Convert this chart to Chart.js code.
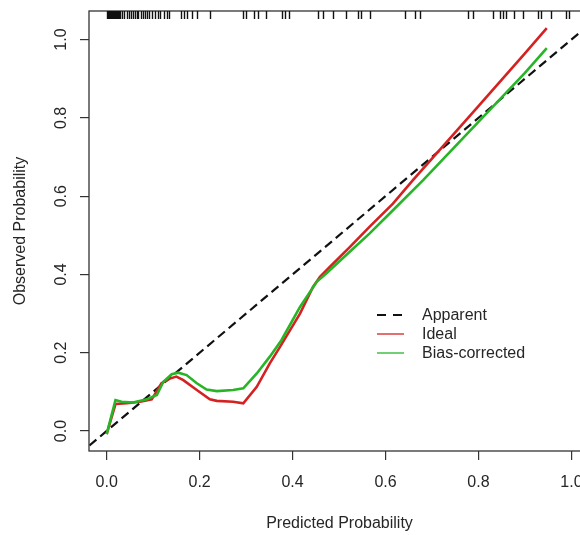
<!DOCTYPE html>
<html>
<head>
<meta charset="utf-8">
<title>Calibration curve</title>
<script src="https://cdn.jsdelivr.net/npm/chart.js@4.4.0/dist/chart.umd.min.js"></script>
<style>
  html, body { margin: 0; padding: 0; background: #fff; overflow: hidden; }
  #wrap { width: 580px; height: 535px; overflow: hidden; }
</style>
</head>
<body>
<div id="wrap"><canvas id="calib" width="620" height="535"></canvas></div>
<script>
// axis ticks
const xTicks = [0, 0.2, 0.4, 0.6, 0.8, 1.0];
const yTicks = [0, 0.2, 0.4, 0.6, 0.8, 1.0];

// reference diagonal
const apparentX = [-0.06, 1.08];
const apparentY = [-0.06, 1.08];

// red curve
const idealX = [0.000, 0.019, 0.043, 0.072, 0.097, 0.118, 0.136, 0.150, 0.165, 0.194, 0.222, 0.237,
                0.272, 0.294, 0.323, 0.351, 0.373, 0.416, 0.444, 0.459, 0.480, 0.523, 0.566, 0.616,
                0.659, 0.700, 0.800, 0.900, 0.947];
const idealY = [-0.008, 0.069, 0.071, 0.075, 0.081, 0.122, 0.134, 0.139, 0.130, 0.105, 0.081, 0.077,
                0.075, 0.071, 0.113, 0.173, 0.215, 0.300, 0.368, 0.394, 0.419, 0.470, 0.522, 0.581,
                0.641, 0.696, 0.830, 0.965, 1.029];

// green curve
const biasX = [0.000, 0.019, 0.032, 0.057, 0.086, 0.108, 0.122, 0.140, 0.154, 0.172, 0.194, 0.215,
               0.237, 0.272, 0.294, 0.323, 0.351, 0.376, 0.416, 0.452, 0.473, 0.523, 0.566, 0.616,
               0.681, 0.800, 0.900, 0.947];
const biasY = [-0.008, 0.079, 0.075, 0.073, 0.081, 0.092, 0.126, 0.145, 0.149, 0.143, 0.122, 0.106,
               0.102, 0.105, 0.109, 0.147, 0.190, 0.232, 0.317, 0.381, 0.403, 0.458, 0.505, 0.564,
               0.641, 0.790, 0.915, 0.978];

// rug of predicted probabilities along the top
const rugX = [0.000, 0.002, 0.004, 0.006, 0.008, 0.010, 0.012, 0.014, 0.016, 0.018, 0.020, 0.022,
              0.024, 0.026, 0.028, 0.034, 0.038, 0.043, 0.048, 0.052, 0.056, 0.061, 0.065, 0.068,
              0.073, 0.079, 0.082, 0.087, 0.092, 0.097, 0.104, 0.111, 0.115, 0.123, 0.129, 0.135,
              0.161, 0.167, 0.172, 0.183, 0.194, 0.222, 0.294, 0.300, 0.317, 0.325, 0.343, 0.378,
              0.383, 0.392, 0.455, 0.466, 0.486, 0.515, 0.541, 0.548, 0.566, 0.642, 0.663, 0.675,
              0.778, 0.788, 0.831, 0.847, 0.853, 0.859, 0.876, 0.896, 0.928, 0.935, 0.957, 0.988,
              0.994];

const seriesLabels = ['Apparent', 'Ideal', 'Bias-corrected'];
const xTitle = 'Predicted Probability';
const yTitle = 'Observed Probability';

const FONT = '16px "Liberation Sans", Arial, sans-serif';
const INK = '#262626';

function toPoints(xs, ys) {
    return xs.map((x, i) => ({ x: x, y: ys[i] }));
}

// box, rug, axis text and legend, all placed through the chart's scales
const decorations = {
    id: 'decorations',
    afterDraw(chart) {
        const ctx = chart.ctx;
        const area = chart.chartArea;
        const xs = chart.scales.x;
        const ys = chart.scales.y;
        ctx.save();

        ctx.strokeStyle = '#333';
        ctx.lineWidth = 1.3;
        ctx.strokeRect(area.left, area.top, area.right - area.left, area.bottom - area.top);

        ctx.strokeStyle = '#111';
        ctx.lineWidth = 1.4;
        rugX.forEach(v => {
            const px = Math.round(xs.getPixelForValue(v)) + 0.5;
            ctx.beginPath();
            ctx.moveTo(px, area.top);
            ctx.lineTo(px, area.top + 8);
            ctx.stroke();
        });

        ctx.fillStyle = INK;
        ctx.font = FONT;
        ctx.textAlign = 'center';
        ctx.textBaseline = 'alphabetic';
        xTicks.forEach(v => {
            ctx.fillText(v.toFixed(1), xs.getPixelForValue(v), 487);
        });
        yTicks.forEach(v => {
            ctx.save();
            ctx.translate(66, ys.getPixelForValue(v));
            ctx.rotate(-Math.PI / 2);
            ctx.fillText(v.toFixed(1), 0, 0);
            ctx.restore();
        });

        ctx.fillText(xTitle, (area.left + area.right) / 2, 528);
        ctx.save();
        ctx.translate(25, (area.top + area.bottom) / 2);
        ctx.rotate(-Math.PI / 2);
        ctx.fillText(yTitle, 0, 0);
        ctx.restore();

        // legend
        const rows = [315, 334, 353];
        chart.data.datasets.forEach((ds, i) => {
            ctx.beginPath();
            ctx.strokeStyle = ds.borderColor;
            ctx.lineWidth = i === 0 ? 2.2 : 1.3;
            ctx.setLineDash(i === 0 ? [9, 7] : []);
            ctx.moveTo(377, rows[i]);
            ctx.lineTo(404, rows[i]);
            ctx.stroke();
            ctx.setLineDash([]);
            ctx.textAlign = 'left';
            ctx.textBaseline = 'middle';
            ctx.fillStyle = INK;
            ctx.fillText(ds.label, 422, rows[i] + 1);
        });

        ctx.restore();
    }
};

new Chart(document.getElementById('calib'), {
    type: 'scatter',
    data: {
        datasets: [
            {
                label: seriesLabels[0],
                data: toPoints(apparentX, apparentY),
                showLine: true,
                borderColor: '#111',
                borderWidth: 2.2,
                borderDash: [9, 5],
                pointRadius: 0,
                order: 2
            },
            {
                label: seriesLabels[1],
                data: toPoints(idealX, idealY),
                showLine: true,
                borderColor: '#d42222',
                borderWidth: 2.6,
                pointRadius: 0,
                order: 1
            },
            {
                label: seriesLabels[2],
                data: toPoints(biasX, biasY),
                showLine: true,
                borderColor: '#27b527',
                borderWidth: 2.6,
                pointRadius: 0,
                order: 0
            }
        ]
    },
    options: {
        responsive: false,
        animation: false,
        layout: { padding: { top: 11, right: 30, left: 0, bottom: 0 } },
        plugins: { legend: { display: false }, tooltip: { enabled: false } },
        events: [],
        scales: {
            x: {
                type: 'linear',
                min: -0.038,
                max: 1.04,
                ticks: { display: false },
                border: { display: false },
                grid: { drawOnChartArea: false, drawTicks: true, tickLength: 9, color: '#333', lineWidth: 1.2 },
                afterBuildTicks: s => { s.ticks = xTicks.map(v => ({ value: v })); },
                afterFit: s => { s.height = 84; }
            },
            y: {
                type: 'linear',
                min: -0.051,
                max: 1.073,
                ticks: { display: false },
                border: { display: false },
                grid: { drawOnChartArea: false, drawTicks: true, tickLength: 9, color: '#333', lineWidth: 1.2 },
                afterBuildTicks: s => { s.ticks = yTicks.map(v => ({ value: v })); },
                afterFit: s => { s.width = 89; }
            }
        }
    },
    plugins: [decorations]
});
</script>
</body>
</html>
